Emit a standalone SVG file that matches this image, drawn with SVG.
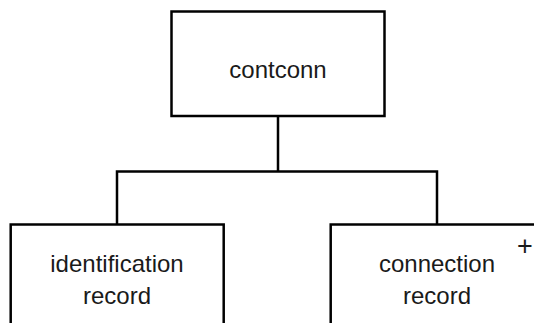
<svg xmlns="http://www.w3.org/2000/svg" width="534" height="323" viewBox="0 0 534 323">
<style>
.box{fill:#fff;stroke:#000;stroke-width:2.5}
.con{fill:none;stroke:#000;stroke-width:2.5}
text{font-family:"Liberation Sans",Arial,Helvetica,sans-serif;font-size:24px;fill:#1a1a1a;text-anchor:middle}
.plus{font-size:27px}
</style>
<rect width="534" height="323" fill="#fff"/>
<g id="connectors">
<path class="con" d="M278 116 V171.5 M117 224.5 V171.5 H437 V224.5"/>
</g>
<g id="contconn">
<rect class="box" x="171.5" y="11.5" width="213" height="104.5"/>
<text x="278" y="78">contconn</text>
</g>
<g id="identification-record">
<rect class="box" x="10.7" y="224.5" width="213" height="110"/>
<text x="117" y="271.5">identification</text>
<text x="117" y="303.5">record</text>
</g>
<g id="connection-record">
<rect class="box" x="330.7" y="224.5" width="213" height="110"/>
<text x="437" y="271.5">connection</text>
<text x="437" y="303.5">record</text>
<text class="plus" x="525" y="255">+</text>
</g>
</svg>
